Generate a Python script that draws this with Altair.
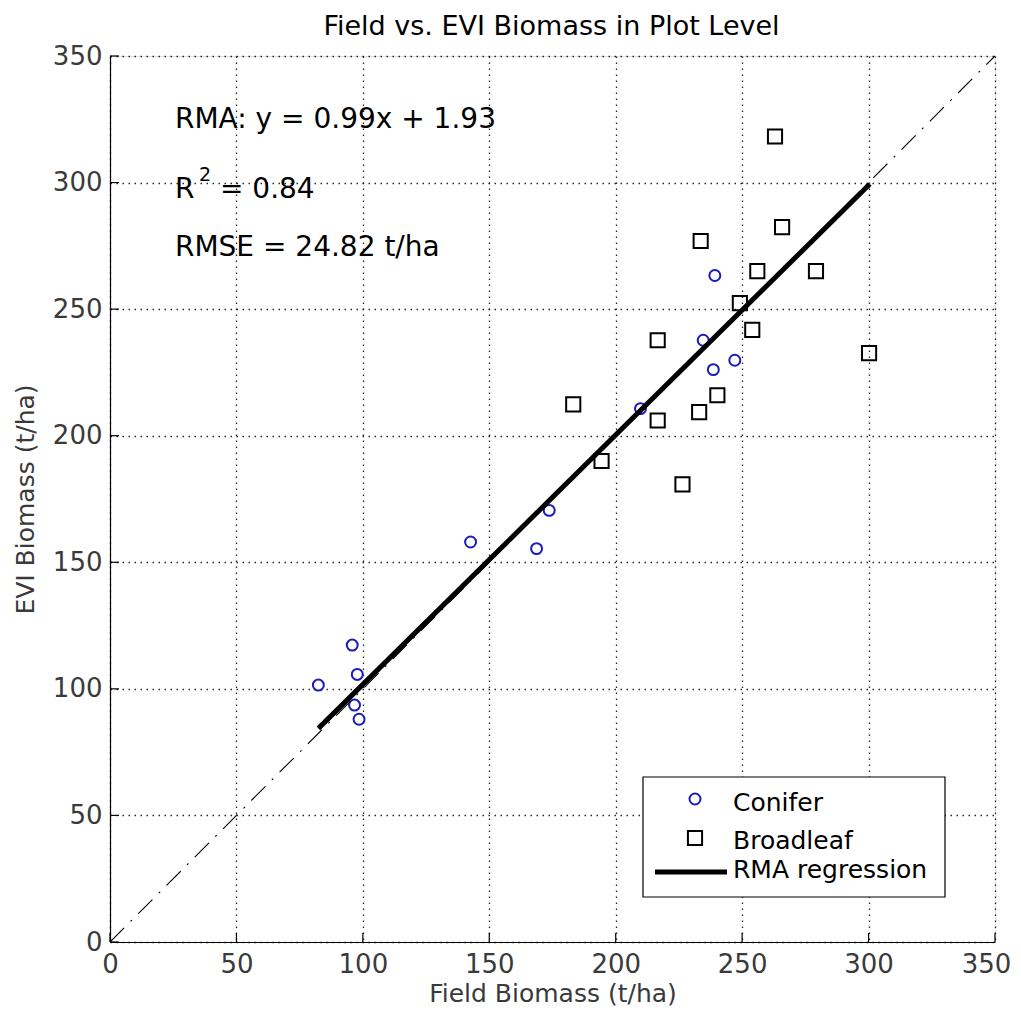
import altair as alt
import pandas as pd

# ---- data ----
conifer_x = [82.4, 95.8, 97.8, 96.7, 98.5, 142.6, 168.7, 173.7, 209.8, 239.2, 234.6, 247.1, 238.6]
conifer_y = [101.5, 117.3, 105.7, 93.6, 88.0, 158.0, 155.4, 170.5, 210.7, 263.3, 237.7, 229.8, 226.1]
broad_x = [263.0, 233.6, 265.8, 256.0, 279.2, 249.1, 254.0, 216.6, 300.2, 240.2, 233.0, 216.6, 183.2, 194.4, 226.4]
broad_y = [318.2, 276.9, 282.4, 265.0, 265.0, 252.4, 241.8, 237.7, 232.6, 216.0, 209.3, 206.0, 212.4, 190.0, 180.8]
rma_x = [82.4, 300.5]
rma_y = [84.4, 299.4]
ref_x = [0, 350]
ref_y = [0, 350]
tick_values = [0, 50, 100, 150, 200, 250, 300, 350]
legend_labels = ["Conifer", "Broadleaf", "RMA regression"]
annot_lines = ["RMA: y = 0.99x + 1.93", "R", "2", "= 0.84", "RMSE = 24.82 t/ha"]
title_text = "Field vs. EVI Biomass in Plot Level"
x_title = "Field Biomass (t/ha)"
y_title = "EVI Biomass (t/ha)"

W, H = 885, 886
FONT = "DejaVu Sans"
BLUE = "#1c1cb8"

xs = alt.Scale(domain=[0, 350], nice=False, zero=False)
ys = alt.Scale(domain=[0, 350], nice=False, zero=False)

common_axis = dict(values=tick_values, tickSize=0, labelFontSize=26, labelColor="#3a3a3a",
                   labelFont=FONT, labelFlush=False, labelOverlap=False, grid=True,
                   gridDash=[1.5, 4.5], gridColor="#000000", gridWidth=1.3, gridOpacity=0.85,
                   domainColor="#000000", domainWidth=1.2, titleFontSize=25, titleFont=FONT,
                   titleFontWeight="normal", titleColor="#3a3a3a", titleBaseline="alphabetic")
x_axis = alt.Axis(title=x_title, labelPadding=9, titleY=59,
                  labelOffset={"condition": {"test": "datum.value == 350", "value": -9}, "value": 0},
                  **common_axis)
y_axis = alt.Axis(title=y_title, labelPadding=8, titleX=-77, titleY=443, titleAngle=270,
                  titleAlign="center", **common_axis)

def X(f="x"):
    return alt.X(f"{f}:Q", scale=xs, axis=x_axis)

def Y(f="y"):
    return alt.Y(f"{f}:Q", scale=ys, axis=y_axis)

conifer_df = pd.DataFrame({"x": conifer_x, "y": conifer_y})
broad_df = pd.DataFrame({"x": broad_x, "y": broad_y})
rma_df = pd.DataFrame({"x": rma_x, "y": rma_y})
ref_df = pd.DataFrame({"x": ref_x, "y": ref_y})
ticks_df = pd.DataFrame({"x": tick_values, "y": tick_values})
dummy = pd.DataFrame({"a": [0]})

conifer = alt.Chart(conifer_df).mark_point(shape="circle", size=120, filled=False,
                                           stroke=BLUE, strokeWidth=2, opacity=1).encode(x=X(), y=Y())
broad = alt.Chart(broad_df).mark_point(shape="square", size=200, filled=False,
                                       stroke="black", strokeWidth=2, opacity=1).encode(x=X(), y=Y())
rma = alt.Chart(rma_df).mark_line(color="black", strokeWidth=5).encode(x=X(), y=Y())
ref = alt.Chart(ref_df).mark_line(color="black", strokeWidth=1.1,
                                  strokeDash=[20, 9, 2, 9]).encode(x=X(), y=Y())

left_ticks = alt.Chart(ticks_df).mark_rule(color="black", strokeWidth=1.2).encode(
    y=Y(), x=alt.value(0), x2=alt.value(9))
bottom_ticks = alt.Chart(ticks_df).mark_rule(color="black", strokeWidth=1.2).encode(
    x=X(), y=alt.value(H), y2=alt.value(H - 9))

# annotation text (data coordinates, alphabetic baseline)
ann_df = pd.DataFrame({"x": [25.7, 25.7, 25.7, 25.7, 25.7],
                       "y": [321.6, 293.9, 293.9, 293.9, 271.0],
                       "t": annot_lines})
ann_main = alt.Chart(ann_df.iloc[[0, 1, 4]]).mark_text(
    font=FONT, fontSize=28, align="left", baseline="alphabetic", color="black").encode(
    x=X(), y=Y(), text="t:N")
ann_sup = alt.Chart(ann_df.iloc[[2]]).mark_text(
    font=FONT, fontSize=19, align="left", baseline="alphabetic", color="black", dx=24, dy=-17).encode(
    x=X(), y=Y(), text="t:N")
ann_eq = alt.Chart(ann_df.iloc[[3]]).mark_text(
    font=FONT, fontSize=28, align="left", baseline="alphabetic", color="black", dx=45).encode(
    x=X(), y=Y(), text="t:N")

# chart title
title_mark = alt.Chart(pd.DataFrame({"t": [title_text]})).mark_text(
    font=FONT, fontSize=27, align="center", baseline="alphabetic", color="black").encode(
    x=alt.value(W / 2 - 1), y=alt.value(-21), text="t:N")

# legend box
leg_box = alt.Chart(dummy).mark_rect(fill="white", stroke="black", strokeWidth=1.2).encode(
    x=alt.value(533), x2=alt.value(835), y=alt.value(721), y2=alt.value(841))
leg_c = alt.Chart(dummy).mark_point(shape="circle", size=120, filled=False, stroke=BLUE,
                                    strokeWidth=2, opacity=1).encode(x=alt.value(585), y=alt.value(743))
leg_s = alt.Chart(dummy).mark_point(shape="square", size=200, filled=False, stroke="black",
                                    strokeWidth=2, opacity=1).encode(x=alt.value(585), y=alt.value(782))
leg_l = alt.Chart(dummy).mark_rule(color="black", strokeWidth=5).encode(
    x=alt.value(545), x2=alt.value(617), y=alt.value(816))
leg_texts = []
for lbl, yy in zip(legend_labels, [755, 793, 822]):
    leg_texts.append(alt.Chart(pd.DataFrame({"t": [lbl]})).mark_text(
        font=FONT, fontSize=25, align="left", baseline="alphabetic", color="black").encode(
        x=alt.value(623), y=alt.value(yy), text="t:N"))

chart = alt.layer(
    left_ticks, bottom_ticks, conifer, broad, rma, ref,
    ann_main, ann_sup, ann_eq, title_mark,
    leg_box, leg_c, leg_s, leg_l, *leg_texts
).properties(
    width=W, height=H,
    autosize=alt.AutoSizeParams(type="none"),
    padding={"left": 102, "top": 48, "right": 18, "bottom": 64},
).configure_view(stroke=None).configure(background="white")

chart.save("out.html", embed_options={"renderer": "svg", "actions": False})
